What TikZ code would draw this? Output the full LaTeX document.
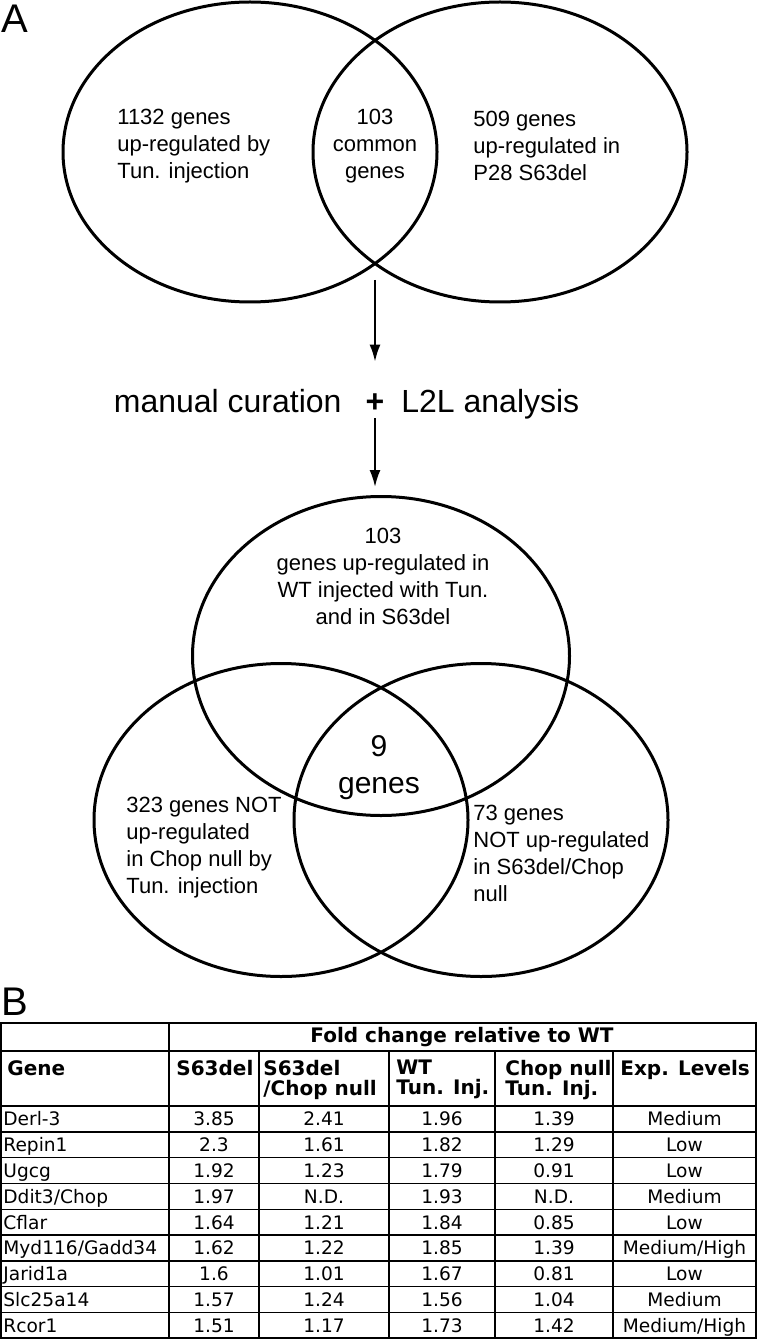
\documentclass[tikz,border=0pt]{standalone}
\usepackage{fontspec}
\setmainfont{Liberation Sans}
\newfontfamily\tabfont{DejaVu Sans}
\usetikzlibrary{positioning}
\usetikzlibrary{shapes.geometric,arrows.meta}

\begin{document}
\begin{tikzpicture}[x=0.5pt,y=-0.5pt,
  venn/.style={draw,ellipse,line width=1.5pt,inner sep=0pt,minimum width=187pt},
  lbl/.style={inner sep=0pt,align=left,font=\fontsize{11}{13.5}\selectfont},
  big/.style={inner sep=0pt,font=\fontsize{16}{19}\selectfont},
  panel/.style={inner sep=0pt,anchor=north west,font=\fontsize{20}{22}\selectfont},
  arr/.style={line width=1pt,-{Latex[length=8.5pt,width=5.5pt]}},
  cell/.style={inner sep=0pt,font=\tabfont\fontsize{9.3}{10}\selectfont},
  head/.style={inner sep=0pt,anchor=north west,align=left,font=\tabfont\bfseries\fontsize{10}{10}\selectfont}]
 \useasboundingbox (0,0) rectangle (757,1342);
 % panel A
 \node[panel] (pa) at (1,5) {A};
 \node[venn,minimum height=150pt] (tun) at (250,152) {};
 \node[venn,minimum height=150pt] (s63) at (500,152) {};
 \node[lbl,anchor=west] (tuntxt) at (117,146) {1132 genes\\up-regulated by\\Tun. injection};
 \node[lbl,align=center] (comtxt) at (375,146) {103\\common\\genes};
 \node[lbl,anchor=west] (s63txt) at (473,146) {509 genes\\up-regulated in\\P28 S63del};
 \coordinate (split) at (375,280);
 \node[big,anchor=base,text height=25pt,text depth=3pt] (plus) at (375,412) {\bfseries +};
 \node[big,anchor=base east] (manual) at (342,412) {manual curation};
 \node[big,anchor=base west] (l2l) at (401,412) {L2L analysis};
 \node[venn,minimum width=188.5pt,minimum height=159.5pt] (wt) at (381,656) {};
 \node[venn,minimum height=156.5pt] (chop) at (281,820) {};
 \node[venn,minimum height=156.5pt] (dbl) at (481,820) {};
 \draw[arr] (split) -- (plus.north);
 \draw[arr,shorten >=4pt] (plus.south) -- (plus.south |- wt.north);
 \node[lbl,align=center] (wttxt) at (383,576) {103\\genes up-regulated in\\WT injected with Tun.\\and in S63del};
 \node[lbl,anchor=west] (choptxt) at (126,848) {323 genes NOT\\up-regulated\\in Chop null by\\Tun. injection};
 \node[lbl,anchor=west] (dbltxt) at (473,853) {73 genes\\NOT up-regulated\\in S63del/Chop\\null};
 \node[inner sep=0pt,align=center,font=\fontsize{15}{18.5}\selectfont] (nine) at (379,768) {9\\genes};
 % panel B
 \node[panel] (pb) at (1,988) {B};
 \draw[line width=1pt] (1,1023) rectangle (756,1338);
 \draw[line width=0.7pt] (1,1051) -- (756,1051) (1,1106) -- (756,1106) (169,1023) -- (169,1338);
 \foreach \k in {1,...,8}
  \draw[line width=0.7pt] (1,{1106+25.8*\k}) -- (756,{1106+25.8*\k});
 \foreach \cx in {259,389,495,613}
  \draw[line width=0.7pt] (\cx,1051) -- (\cx,1338);
 \node[head,anchor=center] (hfold) at (462,1037) {Fold change relative to WT};
 \node[head] (hgene) at (7,1060) {Gene};
 \node[head] (hs) at (176,1060) {S63del};
 \node[head] (hsc) at (263,1060) {S63del\\/Chop null};
 \node[head] (hwt) at (396,1060) {WT\\Tun. Inj.};
 \node[head] (hchop) at (505,1060) {Chop null\\Tun. Inj.};
 \node[head] (hexp) at (620,1060) {Exp. Levels};
 \foreach \g/\a/\b/\c/\d/\e [count=\i] in {Derl-3/3.85/2.41/1.96/1.39/Medium,
   Repin1/2.3/1.61/1.82/1.29/Low, Ugcg/1.92/1.23/1.79/0.91/Low,
   {Ddit3/Chop}/1.97/N.D./1.93/N.D./Medium, Cflar/1.64/1.21/1.84/0.85/Low,
   {Myd116/Gadd34}/1.62/1.22/1.85/1.39/{Medium/High}, Jarid1a/1.6/1.01/1.67/0.81/Low,
   Slc25a14/1.57/1.24/1.56/1.04/Medium, Rcor1/1.51/1.17/1.73/1.42/{Medium/High}} {
  \node[cell,anchor=base west] (g\i) at (3,{1106+25.8*(\i-0.5)+7}) {\g};
  \node[cell,anchor=base] (a\i) at (214,{1106+25.8*(\i-0.5)+7}) {\a};
  \node[cell,anchor=base] (b\i) at (324,{1106+25.8*(\i-0.5)+7}) {\b};
  \node[cell,anchor=base] (c\i) at (442,{1106+25.8*(\i-0.5)+7}) {\c};
  \node[cell,anchor=base] (d\i) at (554,{1106+25.8*(\i-0.5)+7}) {\d};
  \node[cell,anchor=base] (e\i) at (684.5,{1106+25.8*(\i-0.5)+7}) {\e};
 }
\end{tikzpicture}
\end{document}
